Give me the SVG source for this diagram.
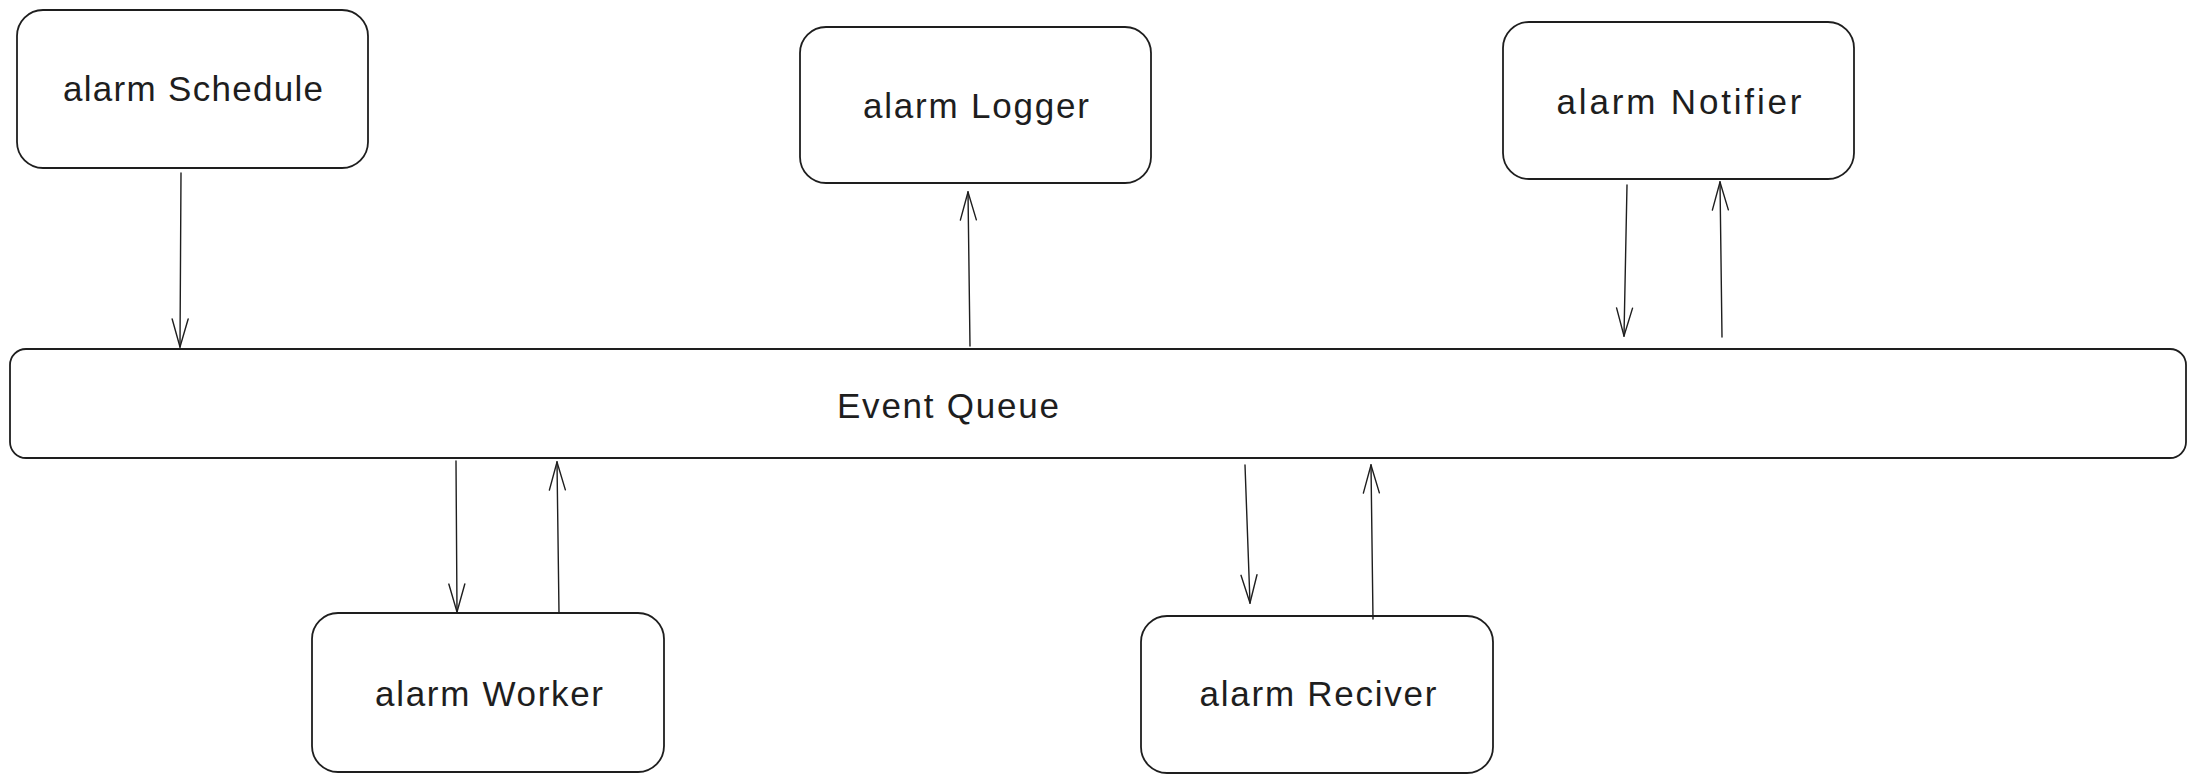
<svg xmlns="http://www.w3.org/2000/svg" width="2196" height="784" viewBox="0 0 2196 784">
<defs>
<style>
.box{fill:#ffffff;stroke:#1e1e1e;stroke-width:1.8}
.lbl{font-family:"Liberation Sans",Arial,sans-serif;font-size:35px;fill:#1e1e1e;text-anchor:middle;dominant-baseline:central}
.edge{fill:none;stroke:#1e1e1e;stroke-width:1.4;stroke-linecap:round}
</style>
<marker id="arr" viewBox="0 0 30 20" refX="29" refY="10" markerWidth="30" markerHeight="20" markerUnits="userSpaceOnUse" orient="auto">
<path d="M1,2 L29,10 L1,18" fill="none" stroke="#1e1e1e" stroke-width="1.4" stroke-linecap="round"/>
</marker>
</defs>
<rect width="2196" height="784" fill="#ffffff"/>
<g id="schedule">
<rect class="box" x="17" y="10" width="351" height="158" rx="26"/>
<text class="lbl" x="193" y="88" textLength="260" lengthAdjust="spacing">alarm Schedule</text>
</g>
<g id="logger">
<rect class="box" x="800" y="27" width="351" height="156" rx="26"/>
<text class="lbl" x="976" y="105" textLength="226" lengthAdjust="spacing">alarm Logger</text>
</g>
<g id="notifier">
<rect class="box" x="1503" y="22" width="351" height="157" rx="26"/>
<text class="lbl" x="1679" y="101" textLength="245" lengthAdjust="spacing">alarm Notifier</text>
</g>
<g id="queue">
<rect class="box" x="10" y="349" width="2176" height="109" rx="16"/>
<text class="lbl" x="948" y="405" textLength="222" lengthAdjust="spacing">Event Queue</text>
</g>
<g id="worker">
<rect class="box" x="312" y="613" width="352" height="159" rx="26"/>
<text class="lbl" x="489" y="693" textLength="228" lengthAdjust="spacing">alarm Worker</text>
</g>
<g id="reciver">
<rect class="box" x="1141" y="616" width="352" height="157" rx="26"/>
<text class="lbl" x="1318" y="693" textLength="237" lengthAdjust="spacing">alarm Reciver</text>
</g>
<g id="connectors">
<path class="edge" d="M181,173 L180,347" marker-end="url(#arr)"/>
<path class="edge" d="M970,346 L968,192" marker-end="url(#arr)"/>
<path class="edge" d="M1627,185 L1624,336" marker-end="url(#arr)"/>
<path class="edge" d="M1722,337 L1720,182" marker-end="url(#arr)"/>
<path class="edge" d="M456,461 L457,612" marker-end="url(#arr)"/>
<path class="edge" d="M559,613 L557,462" marker-end="url(#arr)"/>
<path class="edge" d="M1245,465 L1250,603" marker-end="url(#arr)"/>
<path class="edge" d="M1373,619 L1371,465" marker-end="url(#arr)"/>
</g>
</svg>
